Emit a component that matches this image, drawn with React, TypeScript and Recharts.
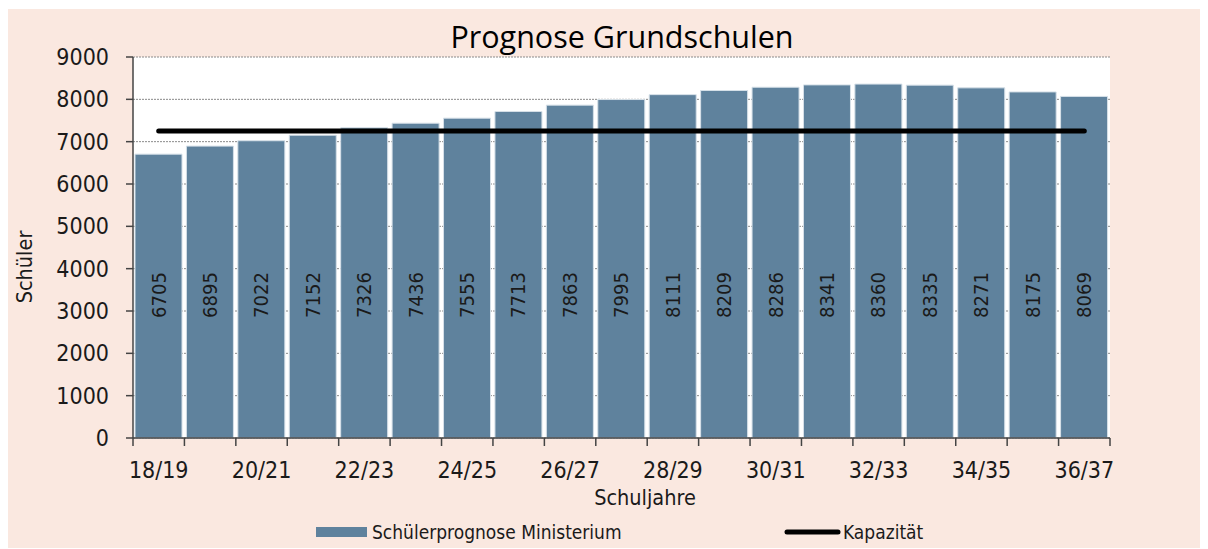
import React from 'react';
import { ComposedChart, Bar, Line, XAxis, YAxis, CartesianGrid, LabelList } from 'recharts';

const years = ['18/19', '19/20', '20/21', '21/22', '22/23', '23/24', '24/25', '25/26', '26/27', '27/28', '28/29', '29/30', '30/31', '31/32', '32/33', '33/34', '34/35', '35/36', '36/37'];
const prognose = [6705, 6895, 7022, 7152, 7326, 7436, 7555, 7713, 7863, 7995, 8111, 8209, 8286, 8341, 8360, 8335, 8271, 8175, 8069];
const kapazitaet = [7250, 7250, 7250, 7250, 7250, 7250, 7250, 7250, 7250, 7250, 7250, 7250, 7250, 7250, 7250, 7250, 7250, 7250, 7250];
const yTicks = [0, 1000, 2000, 3000, 4000, 5000, 6000, 7000, 8000, 9000];

const data = years.map((y, i) => ({ year: y, prognose: prognose[i], kapazitaet: kapazitaet[i] }));

const FONT = "'Liberation Sans Narrow', 'DejaVu Sans Condensed', 'Roboto Condensed', Roboto, sans-serif";
const BG = '#fae8e0';
const BAR = '#5f829d';
const W = 1203;
const H = 540;
const PLOT_L = 128;
const PLOT_R = 1105;
const BAND = (PLOT_R - PLOT_L) / years.length;

const XTick = (props: any) => {
  const { x, y, index } = props;
  const last = index === years.length - 1;
  return (
    <g>
      <line x1={x - BAND / 2} x2={x - BAND / 2} y1={y} y2={y + 8} stroke="#444" strokeWidth={1.5} />
      {last && <line x1={x + BAND / 2} x2={x + BAND / 2} y1={y} y2={y + 8} stroke="#444" strokeWidth={1.5} />}
      {index % 2 === 0 && (
        <text x={x} y={y + 32} textAnchor="middle" dominantBaseline="central" fontFamily={FONT} fontSize={23} fill="#1a1a1a">
          {years[index]}
        </text>
      )}
    </g>
  );
};

const BarValue = (props: any) => {
  const { x, y, width, height, value } = props;
  const cx = x + width / 2;
  const cy = y + height - 143;
  return (
    <text x={cx} y={cy} transform={`rotate(-90 ${cx} ${cy})`} textAnchor="middle" dominantBaseline="central" fontFamily={FONT} fontSize={20} fill="#1a1a1a">
      {value}
    </text>
  );
};

export default function App() {
  return (
    <div style={{ position: 'relative', left: -3, top: 1, width: W, height: H, background: BG }}>
      <ComposedChart width={W} height={H} data={data} margin={{ top: 48, right: W - PLOT_R, left: 0, bottom: 0 }} barCategoryGap={2}>
        <CartesianGrid vertical={false} fill="#ffffff" stroke="#8a8a8a" strokeDasharray="2 1" />
        <XAxis
          dataKey="year"
          interval={0}
          height={111}
          tickSize={0}
          tickMargin={0}
          tickLine={false}
          axisLine={{ stroke: '#444', strokeWidth: 1.5 }}
          tick={<XTick />}
        />
        <YAxis
          width={PLOT_L}
          domain={[0, 9000]}
          ticks={yTicks}
          interval={0}
          tickSize={7}
          tickMargin={17}
          axisLine={{ stroke: '#444', strokeWidth: 1.5 }}
          tickLine={{ stroke: '#444', strokeWidth: 1.5 }}
          tick={{ fontFamily: FONT, fontSize: 23, fill: '#1a1a1a' }}
        />
        <Bar dataKey="prognose" fill={BAR} stroke="#d6e0e8" strokeWidth={1} isAnimationActive={false}>
          <LabelList dataKey="prognose" content={<BarValue />} />
        </Bar>
        <Line dataKey="kapazitaet" stroke="#000" strokeWidth={5} strokeLinecap="round" dot={false} activeDot={false} isAnimationActive={false} />
      </ComposedChart>
      <svg width={W} height={H} style={{ position: 'absolute', left: 0, top: 0, pointerEvents: 'none' }}>
        <text x={617} y={27} textAnchor="middle" dominantBaseline="central" fontFamily="'Open Sans', sans-serif" fontWeight={500} fontSize={30.5} fill="#000">
          Prognose Grundschulen
        </text>
        <text x={19} y={258} transform="rotate(-90 19 258)" textAnchor="middle" dominantBaseline="central" fontFamily={FONT} fontSize={21.5} fill="#1a1a1a">
          Schüler
        </text>
        <text x={640} y={488} textAnchor="middle" dominantBaseline="central" fontFamily={FONT} fontSize={21.5} fill="#1a1a1a">
          Schuljahre
        </text>
        <rect x={311} y={518} width={51} height={10} fill={BAR} />
        <text x={367} y={523} dominantBaseline="central" fontFamily={FONT} fontSize={19} fill="#1a1a1a">
          Schülerprognose Ministerium
        </text>
        <line x1={782} x2={833} y1={523} y2={523} stroke="#000" strokeWidth={5} strokeLinecap="round" />
        <text x={838} y={523} dominantBaseline="central" fontFamily={FONT} fontSize={19} fill="#1a1a1a">
          Kapazität
        </text>
      </svg>
    </div>
  );
}
